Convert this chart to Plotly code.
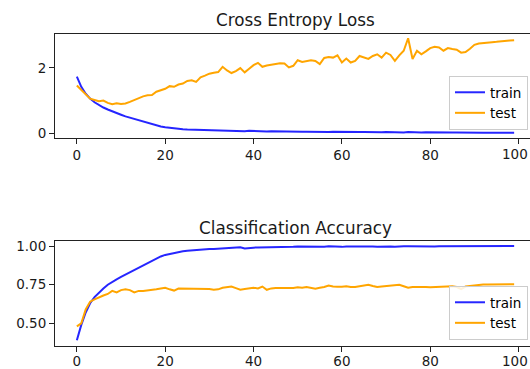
import plotly.graph_objects as go

epochs = list(range(100))

train_loss = [1.73,1.42,1.21,1.06,0.95,0.86,0.79,0.73,0.67,0.62,
0.57,0.52,0.48,0.44,0.40,0.36,0.32,0.28,0.24,0.21,
0.19,0.17,0.155,0.14,0.13,0.12,0.115,0.11,0.10,0.10,
0.095,0.09,0.09,0.085,0.085,0.08,0.08,0.075,0.07,0.08,
0.07,0.065,0.065,0.06,0.065,0.06,0.06,0.055,0.06,0.055,
0.055,0.05,0.055,0.05,0.05,0.045,0.05,0.045,0.05,0.045,
0.04,0.045,0.04,0.045,0.04,0.04,0.035,0.045,0.04,0.035,
0.04,0.035,0.04,0.035,0.03,0.04,0.03,0.035,0.03,0.035,
0.03,0.03,0.035,0.03,0.03,0.025,0.03,0.025,0.025,0.03,
0.025,0.02,0.02,0.02,0.02,0.02,0.02,0.02,0.02,0.02]

test_loss = [1.46,1.33,1.18,1.06,1.02,0.98,1.00,0.93,0.89,0.92,
0.90,0.91,0.96,1.02,1.07,1.13,1.16,1.17,1.27,1.31,
1.36,1.44,1.42,1.49,1.52,1.60,1.62,1.57,1.71,1.76,
1.82,1.85,1.87,2.03,1.92,1.84,1.90,1.99,1.86,1.97,
2.08,2.15,2.03,2.07,2.09,2.10,2.14,2.13,2.01,2.06,
2.23,2.18,2.20,2.23,2.21,2.11,2.30,2.33,2.31,2.38,
2.16,2.28,2.16,2.21,2.36,2.31,2.27,2.36,2.41,2.31,
2.46,2.39,2.21,2.38,2.52,2.90,2.27,2.52,2.41,2.50,
2.60,2.64,2.62,2.52,2.60,2.57,2.55,2.46,2.48,2.58,
2.70,2.74,2.76,2.77,2.78,2.79,2.81,2.82,2.83,2.84]

train_acc = [0.39,0.49,0.57,0.63,0.67,0.70,0.725,0.75,0.77,0.785,
0.80,0.815,0.83,0.845,0.86,0.875,0.89,0.905,0.92,0.933,
0.943,0.95,0.956,0.961,0.966,0.97,0.973,0.976,0.978,0.98,
0.981,0.982,0.984,0.985,0.986,0.987,0.988,0.993,0.985,0.989,
0.99,0.991,0.991,0.992,0.992,0.993,0.993,0.992,0.994,0.995,
0.997,0.996,0.996,0.995,0.996,0.997,0.996,0.999,0.997,0.997,
0.995,0.998,0.996,0.997,0.998,0.999,0.998,0.998,0.996,0.997,
0.999,0.998,0.996,0.999,0.999,0.999,0.998,0.999,0.999,0.998,
0.998,0.998,0.999,0.999,0.999,0.997,0.996,0.998,0.999,0.999,
1.0,1.0,1.0,1.0,1.0,1.0,1.0,1.0,1.0,1.0]

test_acc = [0.48,0.50,0.59,0.64,0.655,0.67,0.68,0.69,0.71,0.70,
0.715,0.72,0.715,0.70,0.71,0.71,0.712,0.718,0.72,0.725,
0.73,0.72,0.712,0.725,0.725,0.722,0.725,0.722,0.726,0.724,
0.722,0.718,0.72,0.73,0.735,0.738,0.728,0.718,0.722,0.728,
0.73,0.726,0.738,0.717,0.726,0.728,0.728,0.73,0.726,0.729,
0.733,0.73,0.735,0.73,0.724,0.73,0.735,0.745,0.738,0.737,
0.736,0.74,0.735,0.735,0.74,0.745,0.75,0.742,0.735,0.738,
0.74,0.743,0.745,0.75,0.74,0.73,0.735,0.735,0.738,0.735,
0.733,0.735,0.735,0.735,0.738,0.74,0.735,0.722,0.738,0.742,
0.745,0.75,0.752,0.752,0.752,0.752,0.753,0.753,0.753,0.753]

x_ticks = [0, 20, 40, 60, 80, 100]
loss_ticks = [0, 2]
acc_ticks = [0.50, 0.75, 1.00]
titles = ["Cross Entropy Loss", "Classification Accuracy"]

# figure is slightly wider than the 530px window so the right spine falls
# outside the visible area, as in the reference
W, H = 536, 369
L = 55
FONT = "DejaVu Sans"
TXT = "#1a1a1a"

fig = go.Figure()
fig.add_trace(go.Scatter(x=epochs, y=train_loss, name="train", mode="lines",
                         line=dict(color="blue", width=2), opacity=0.85,
                         xaxis="x", yaxis="y", legend="legend"))
fig.add_trace(go.Scatter(x=epochs, y=test_loss, name="test", mode="lines",
                         line=dict(color="orange", width=2),
                         xaxis="x", yaxis="y", legend="legend"))
fig.add_trace(go.Scatter(x=epochs, y=train_acc, name="train", mode="lines",
                         line=dict(color="blue", width=2), opacity=0.85,
                         xaxis="x2", yaxis="y2", legend="legend2"))
fig.add_trace(go.Scatter(x=epochs, y=test_acc, name="test", mode="lines",
                         line=dict(color="orange", width=2),
                         xaxis="x2", yaxis="y2", legend="legend2"))

def py(p):
    return 1 - p / H

def px(p):
    return (p - L) / (W - L)

# last tick label is written as an annotation, nudged to stay inside the window
tick_text = [str(v) for v in x_ticks[:-1]] + [""]

xcommon = dict(range=[-4.95, 103.95], tickvals=x_ticks, ticktext=tick_text,
               showgrid=False, zeroline=False,
               showline=True, mirror=True, linecolor="#222", linewidth=1,
               ticks="outside", ticklen=5, tickcolor="#222", tickwidth=1,
               tickfont=dict(family=FONT, size=13.5, color=TXT), automargin=False,
               domain=[0, 1])
ycommon = dict(showgrid=False, zeroline=False, showline=True, mirror=True,
               linecolor="#222", linewidth=1, ticks="outside", ticklen=5,
               tickcolor="#222", tickwidth=1,
               tickfont=dict(family=FONT, size=13.5, color=TXT), automargin=False)

legend_common = dict(font=dict(family=FONT, size=13.5, color="#000"),
                     bgcolor="rgba(255,255,255,0.85)", bordercolor="#cccccc",
                     borderwidth=1, xanchor="right", yanchor="bottom",
                     x=px(528), itemwidth=30, tracegroupgap=0)

annotations = [
    dict(text=titles[0], x=px(295), y=py(19.5), xref="paper", yref="paper",
         showarrow=False, xanchor="center", yanchor="middle",
         font=dict(family=FONT, size=16.8, color=TXT)),
    dict(text=titles[1], x=px(295), y=py(228), xref="paper", yref="paper",
         showarrow=False, xanchor="center", yanchor="middle",
         font=dict(family=FONT, size=16.8, color=TXT)),
]
for xref, ycen in (("x", 153.5), ("x2", 360.5)):
    annotations.append(dict(text=str(x_ticks[-1]), x=x_ticks[-1], xref=xref, xshift=-4,
                            y=py(ycen), yref="paper", showarrow=False,
                            xanchor="center", yanchor="middle", borderpad=0,
                            font=dict(family=FONT, size=13.5, color=TXT)))

fig.update_layout(
    width=W, height=H,
    margin=dict(l=L, r=0, t=0, b=0),
    paper_bgcolor="white", plot_bgcolor="white",
    xaxis=dict(**xcommon, anchor="y"),
    yaxis=dict(**ycommon, range=[-0.13, 3.02], tickvals=loss_ticks,
               domain=[py(137.7), py(34.3)], anchor="x"),
    xaxis2=dict(**xcommon, anchor="y2", ticklabelstandoff=-2),
    yaxis2=dict(**ycommon, range=[0.355, 1.033], tickvals=acc_ticks, tickformat=".2f",
                domain=[py(345.7), py(241)], anchor="x2"),
    legend=dict(**legend_common, y=py(130)),
    legend2=dict(**legend_common, y=py(340)),
    annotations=annotations,
)

fig.write_html("out.html")
